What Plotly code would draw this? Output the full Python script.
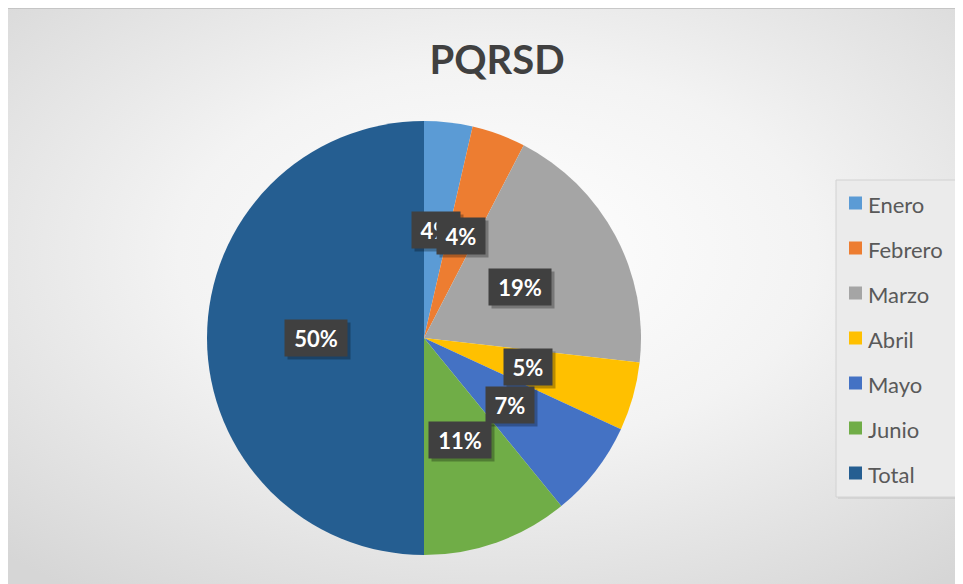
import math
import base64
import plotly.graph_objects as go

# ---- data ----
categories = ["Enero", "Febrero", "Marzo", "Abril", "Mayo", "Junio", "Total"]
shares = [3.6, 4.0, 19.2, 5.1, 7.2, 10.9, 50.0]
colors = ["#5B9BD5", "#ED7D31", "#A5A5A5", "#FFC000", "#4472C4", "#70AD47", "#255E91"]
title_text = "PQRSD"

W, H = 963, 584
OFF = 8  # page body margin


def px(x):
    return (x - OFF) / W


def py(y):
    return 1 - (y - OFF) / H


# pie geometry (window pixels)
pie_left, pie_right, pie_top, pie_bottom = 207, 641, 121, 555
cx = (pie_left + pie_right) / 2
cy = (pie_top + pie_bottom) / 2
R = min(pie_right - pie_left, pie_bottom - pie_top) / 2

fig = go.Figure(go.Pie(
    labels=categories,
    values=shares,
    sort=False,
    direction="clockwise",
    rotation=0,
    marker=dict(colors=colors, line=dict(width=0)),
    textinfo="none",
    hoverinfo="label+percent",
    domain=dict(x=[px(pie_left), px(pie_right)], y=[py(pie_bottom), py(pie_top)]),
))

# background gradient (style only)
svg = ('<svg xmlns="http://www.w3.org/2000/svg" width="1000" height="600" preserveAspectRatio="none" viewBox="0 0 1000 600">'
       '<defs><radialGradient id="g" cx="50%" cy="42%" r="72%">'
       '<stop offset="0" stop-color="#ffffff"/><stop offset="0.45" stop-color="#f3f3f3"/>'
       '<stop offset="1" stop-color="#d6d6d6"/></radialGradient></defs>'
       '<rect width="1000" height="600" fill="url(#g)"/></svg>')
src = "data:image/svg+xml;base64," + base64.b64encode(svg.encode()).decode()
frame_l, frame_t = 5, 8
fig.add_layout_image(dict(source=src, xref="paper", yref="paper", x=px(frame_l), y=py(frame_t),
                          sizex=1.02 - px(frame_l), sizey=py(frame_t), xanchor="left", yanchor="top",
                          sizing="stretch", layer="below"))

shapes = [dict(type="rect", xref="paper", yref="paper", x0=px(frame_l), y0=-0.01, x1=1.01, y1=py(frame_t),
               line=dict(color="#bdbdbd", width=1.5), fillcolor="rgba(0,0,0,0)", layer="below")]
annotations = []

# data labels at half radius along mid angle
total = sum(shares)
cum = 0.0
for name, v in zip(categories, shares):
    mid = (cum + v / 2) / total * 2 * math.pi
    cum += v
    lx = cx + 0.5 * R * math.sin(mid)
    ly = cy - 0.5 * R * math.cos(mid)
    txt = f"{round(100 * v / total)}%"
    w = 14 * len(txt) + 10
    common = dict(xref="paper", yref="paper", x=px(lx), y=py(ly), xanchor="center", yanchor="middle",
                  showarrow=False, width=w, height=26, borderpad=5, align="center")
    annotations.append(dict(text="", bgcolor="rgba(0,0,0,0.28)", xshift=3, yshift=-3, **common))
    annotations.append(dict(text=f"<b>{txt}</b>", bgcolor="#404040",
                            font=dict(family="Lato", size=22, color="#ffffff"), **common))

# legend (custom, to match spacing)
leg_l, leg_t, leg_r, leg_b = 836, 180, 958, 497
shapes.append(dict(type="rect", xref="paper", yref="paper", x0=px(leg_l + 2), y0=py(leg_b + 2),
                   x1=px(leg_r + 2), y1=py(leg_t + 2), line=dict(width=0), fillcolor="rgba(0,0,0,0.06)"))
shapes.append(dict(type="rect", xref="paper", yref="paper", x0=px(leg_l), y0=py(leg_b), x1=px(leg_r),
                   y1=py(leg_t), line=dict(color="#d2d2d2", width=1), fillcolor="#ebebeb"))
first_y, step = 203, 45.0
for i, (name, col) in enumerate(zip(categories, colors)):
    yc = first_y + i * step
    shapes.append(dict(type="rect", xref="paper", yref="paper", x0=px(849), x1=px(862),
                       y0=py(yc + 6.5), y1=py(yc - 6.5), line=dict(width=0), fillcolor=col))
    annotations.append(dict(text=name, xref="paper", yref="paper", x=px(866), y=py(yc + 1),
                            xanchor="left", yanchor="middle", showarrow=False,
                            font=dict(family="Lato", size=22, color="#595959")))

fig.update_layout(
    width=W, height=H, autosize=False,
    margin=dict(l=0, r=0, t=0, b=0),
    paper_bgcolor="#ffffff", plot_bgcolor="#ffffff",
    showlegend=False,
    title=dict(text=f"<b>{title_text}</b>", x=px(497), y=py(60), xanchor="center", yanchor="middle",
               xref="paper", yref="paper", font=dict(family="Lato", size=40, color="#404040")),
    shapes=shapes,
    annotations=annotations,
)

fig.write_html("out.html")
